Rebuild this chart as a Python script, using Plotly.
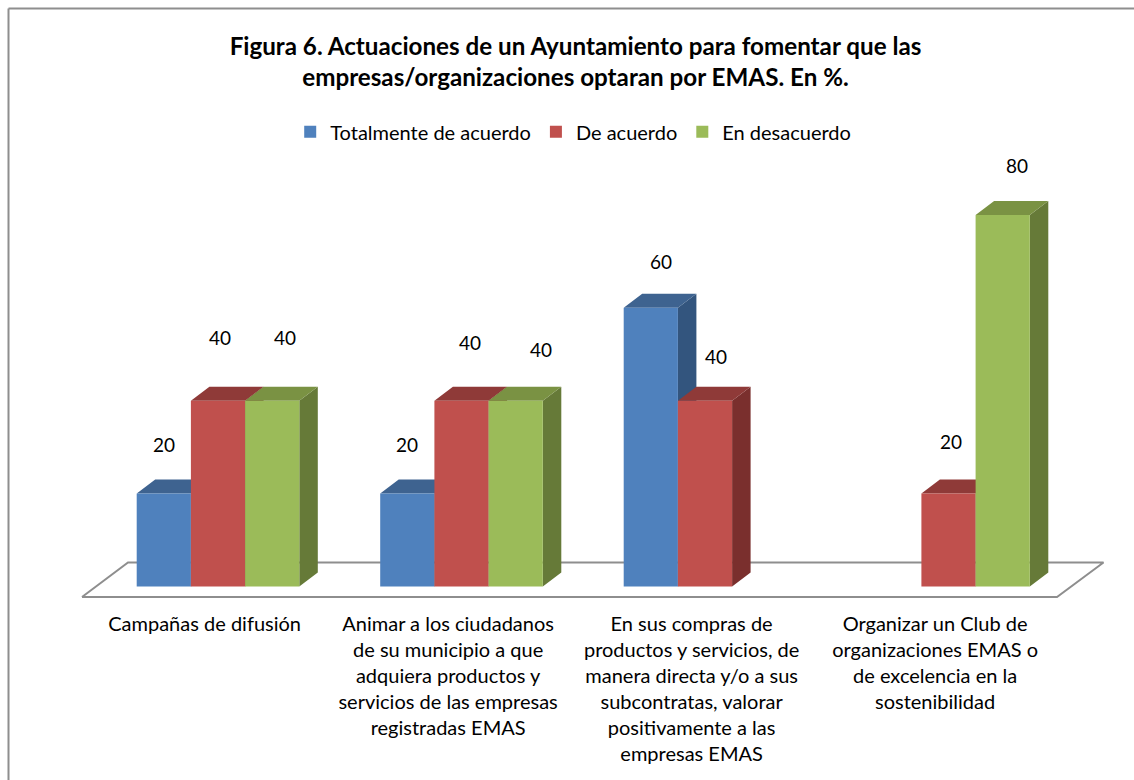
import plotly.graph_objects as go

categories = [
    "Campañas de difusión",
    "Animar a los ciudadanos<br>de su municipio a que<br>adquiera productos y<br>servicios de las empresas<br>registradas EMAS",
    "En sus compras de<br>productos y servicios, de<br>manera directa y/o a sus<br>subcontratas, valorar<br>positivamente a las<br>empresas EMAS",
    "Organizar un Club de<br>organizaciones EMAS o<br>de excelencia en la<br>sostenibilidad",
]
series_names = ["Totalmente de acuerdo", "De acuerdo", "En desacuerdo"]
totalmente = [20, 20, 60, None]
de_acuerdo = [40, 40, 40, 20]
desacuerdo = [40, 40, None, 80]
values = [totalmente, de_acuerdo, desacuerdo]

front = ["#4F81BD", "#C0504D", "#9BBB59"]
top = ["#3E6390", "#8F3A38", "#7A9243"]
side = ["#33557E", "#7A2F2D", "#667A38"]

# plot area in pixels, everything else goes through the axes
W, H = 1134, 780
L, R, T, B = 70, 20, 140, 170
plot_w, plot_h = W - L - R, H - T - B

group_px = 243.5
px_per_unit = 4.645
x_min = -(218 - L) / group_px
x_max = x_min + plot_w / group_px
y_0 = 586.5
y_max = (y_0 - T) / px_per_unit
y_min = y_max - plot_h / px_per_unit

bar_w = 54.2 / group_px
depth_x = 18.5 / group_px
depth_y = 14 / px_per_unit

xs = list(range(len(categories)))
fig = go.Figure()

# floor
fl_front = -10.5 / px_per_unit
fl_back = 24 / px_per_unit
fig.add_trace(go.Scatter(
    x=[(82 - 218) / group_px, (128 - 218) / group_px, (1103.5 - 218) / group_px, (1057 - 218) / group_px, (82 - 218) / group_px],
    y=[fl_front, fl_back, fl_back, fl_front, fl_front],
    mode="lines", line=dict(color="#8E8E8E", width=2),
    fill="toself", fillcolor="white",
    hoverinfo="skip", showlegend=False,
))

# depth faces sit on the lower axes, fronts are on the overlaying ones
for k, vals in enumerate(values):
    off = (k - 1.5) * bar_w
    sx, sy, tx, ty = [], [], [], []
    for x, v in zip(xs, vals):
        if v is None:
            continue
        a = x + off
        b = a + bar_w
        sx += [b, b + depth_x, b + depth_x, b, b, None]
        sy += [0, depth_y, v + depth_y, v, 0, None]
        tx += [a, a + depth_x, b + depth_x, b, a, None]
        ty += [v, v + depth_y, v + depth_y, v, v, None]
    fig.add_trace(go.Scatter(x=sx, y=sy, mode="lines", line=dict(width=0), fill="toself",
                             fillcolor=side[k], hoverinfo="skip", showlegend=False))
    fig.add_trace(go.Scatter(x=tx, y=ty, mode="lines", line=dict(width=0), fill="toself",
                             fillcolor=top[k], hoverinfo="skip", showlegend=False))

for k, vals in enumerate(values):
    fig.add_trace(go.Bar(
        x=xs, y=vals, name=series_names[k], width=bar_w, offset=(k - 1.5) * bar_w,
        marker=dict(color=front[k], line=dict(width=0)),
        xaxis="x2", yaxis="y2",
    ))

# the labels were dragged by hand in the original, so each has its own shift
label_dx = [[0, 0, 10, 0], [2, 8, 11, 2], [13, 25, 0, 14]]
label_dy = [[-49, -49, -46, 0], [-63, -58, -44, -52], [-63, -51, 0, -49]]
for k, vals in enumerate(values):
    for i, v in enumerate(vals):
        if v is None:
            continue
        fig.add_annotation(
            x=i + (k - 1) * bar_w, y=v, text=str(v), showarrow=False,
            xshift=label_dx[k][i], yshift=-label_dy[k][i],
            font=dict(size=19, color="black"),
        )

axis_x = dict(range=[x_min, x_max], showgrid=False, zeroline=False, showline=False)
axis_y = dict(range=[y_min, y_max], showgrid=False, zeroline=False, showline=False, showticklabels=False)

# chart frame: only the top and left edges are inside the crop
frame_x0 = (8.5 - L) / plot_w
frame_x1 = (W - L) / plot_w
frame_y0 = -B / plot_h
frame_y1 = (H - B - 8.5) / plot_h
frame_line = dict(color="#8E8E8E", width=2)

fig.update_layout(
    width=W, height=H,
    margin=dict(l=L, r=R, t=T, b=B, autoexpand=False),
    paper_bgcolor="white", plot_bgcolor="white",
    font=dict(family="Lato", color="black", size=20),
    title=dict(
        text="<b>Figura 6. Actuaciones de un Ayuntamiento para fomentar que las<br>empresas/organizaciones optaran por EMAS. En %.</b>",
        x=0.5075, xanchor="center", y=0.93, yanchor="middle", font=dict(size=24.2),
    ),
    legend=dict(orientation="h", x=0.482, xanchor="center", y=0.976, yanchor="bottom",
                font=dict(size=20), traceorder="normal", itemwidth=30),
    xaxis=dict(**axis_x, tickmode="array", tickvals=[x - 0.055 for x in xs], ticktext=categories,
               ticks="", tickfont=dict(size=20)),
    yaxis=axis_y,
    xaxis2=dict(**axis_x, overlaying="x", showticklabels=False),
    yaxis2=dict(**axis_y, overlaying="y"),
    shapes=[
        dict(type="line", xref="paper", yref="paper", x0=frame_x0, x1=frame_x1,
             y0=frame_y1, y1=frame_y1, line=frame_line, layer="below"),
        dict(type="line", xref="paper", yref="paper", x0=frame_x0, x1=frame_x0,
             y0=frame_y0, y1=frame_y1, line=frame_line, layer="below"),
    ],
)

# page margin off so the figure starts at the window corner
fig.write_html("out.html", config={"displayModeBar": False},
               post_script="document.body.style.margin='0';")
